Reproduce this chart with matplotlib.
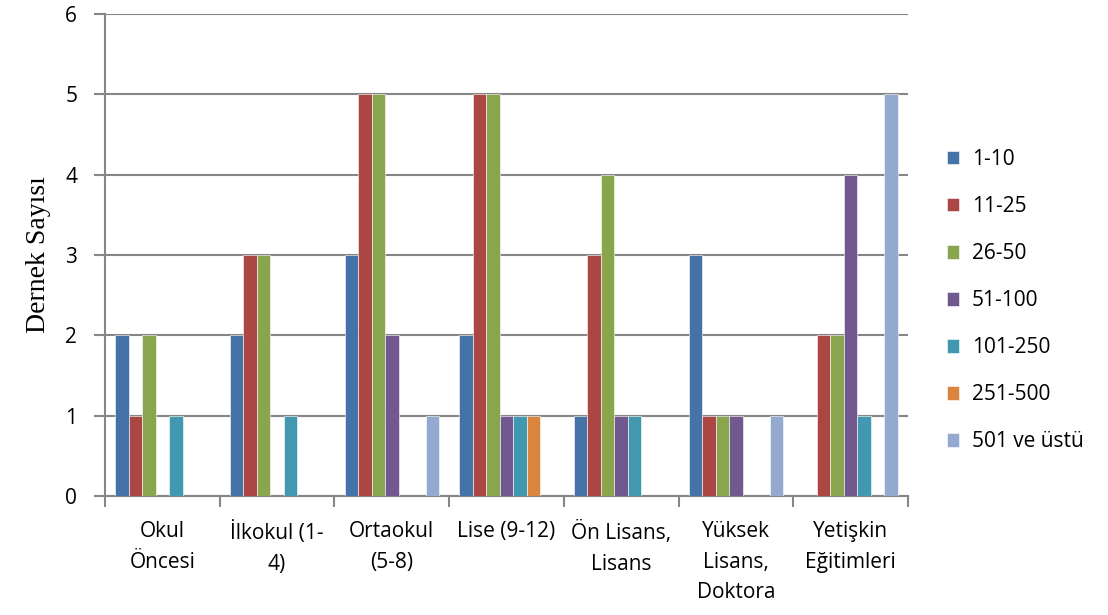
import numpy as np
import matplotlib
matplotlib.use("Agg")
import matplotlib.pyplot as plt

# Data
categories = ["Okul\nÖncesi", "İlkokul (1-\n4)", "Ortaokul\n(5-8)", "Lise (9-12)",
              "Ön Lisans,\nLisans", "Yüksek\nLisans,\nDoktora", "Yetişkin\nEğitimleri"]
series_names = ["1-10", "11-25", "26-50", "51-100", "101-250", "251-500", "501 ve üstü"]
s_1_10 = [2, 2, 3, 2, 1, 3, 0]
s_11_25 = [1, 3, 5, 5, 3, 1, 2]
s_26_50 = [2, 3, 5, 5, 4, 1, 2]
s_51_100 = [0, 0, 2, 1, 1, 1, 4]
s_101_250 = [1, 1, 0, 1, 1, 0, 1]
s_251_500 = [0, 0, 0, 1, 0, 0, 0]
s_501 = [0, 0, 1, 0, 0, 1, 5]
series = [s_1_10, s_11_25, s_26_50, s_51_100, s_101_250, s_251_500, s_501]
colors = ["#4572A7", "#AA4643", "#89A54E", "#71588F", "#4198AF", "#DB843D", "#93A9CF"]

grid_col = "#868686"
plt.rcParams["font.family"] = ["Open Sans", "DejaVu Sans"]

fig = plt.figure(figsize=(11.08, 6.15), dpi=100)
ax = fig.add_axes([105 / 1108, 1 - 496 / 615, 803 / 1108, 482 / 615])

x = np.arange(len(categories))
w = 0.1177
for i, vals in enumerate(series):
    ax.bar(x + (i - 3) * w, vals, width=w, color=colors[i], label=series_names[i],
           edgecolor="white", linewidth=0.4, zorder=3)

ax.set_xlim(-0.5, len(categories) - 0.5)
ax.set_ylim(0, 6)
ax.set_yticks(range(0, 7))
ax.yaxis.grid(True, color=grid_col, linewidth=1.5, zorder=0)

ax.set_xticks(x)
ax.set_xticklabels(categories, fontsize=15, linespacing=1.6)
ax.set_xticks(np.arange(-0.5, len(categories)), minor=True)
ax.tick_params(axis="x", which="major", length=0, pad=18)
ax.tick_params(axis="x", which="minor", length=8, width=1.5, color=grid_col)
ax.tick_params(axis="y", length=8, width=1.5, color=grid_col, labelsize=15, pad=12)

for s in ["top", "right"]:
    ax.spines[s].set_visible(False)
for s in ["left", "bottom"]:
    ax.spines[s].set_color(grid_col)
    ax.spines[s].set_linewidth(1.5)

ax.set_ylabel("Dernek Sayısı", family=["Liberation Serif"], fontsize=20, labelpad=10)

ax.legend(loc="center left", bbox_to_anchor=(1.025, 0.405), frameon=False, fontsize=15,
          handlelength=0.6, handleheight=0.6, labelspacing=1.25, handletextpad=0.6)

plt.savefig("out.png", dpi=100)
